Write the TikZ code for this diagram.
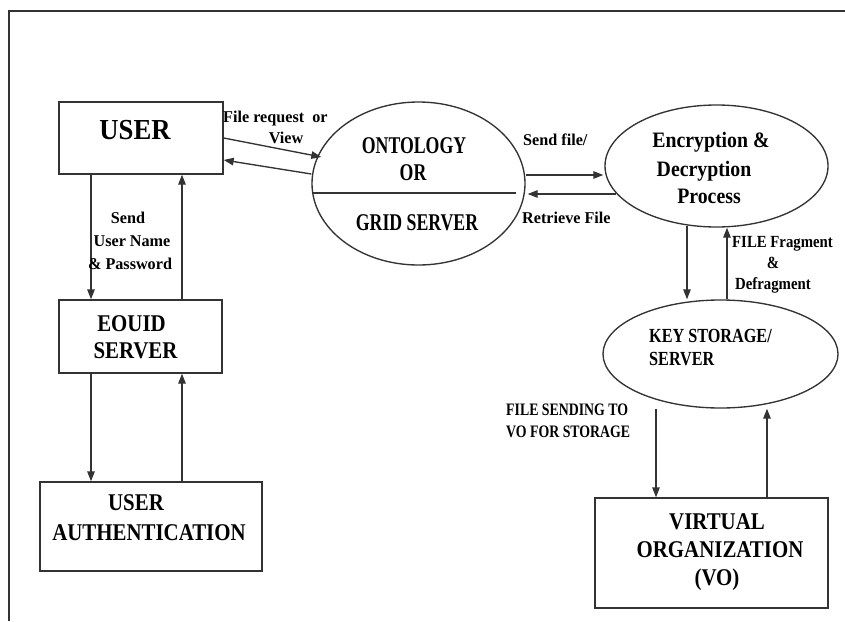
\documentclass[tikz,border=0pt]{standalone}
\usepackage{fontspec}
\setmainfont{Liberation Serif}
% condensed cuts of the same serif face for the different labels
\newfontfamily\fUser[FakeStretch=0.92]{Liberation Serif}
\newfontfamily\fBox[FakeStretch=0.87]{Liberation Serif}
\newfontfamily\fOnt[FakeStretch=0.74]{Liberation Serif}
\newfontfamily\fEnc[FakeStretch=0.90]{Liberation Serif}
\newfontfamily\fKey[FakeStretch=0.81]{Liberation Serif}
\newfontfamily\fLab[FakeStretch=0.98]{Liberation Serif}
\newfontfamily\fLabN[FakeStretch=0.87]{Liberation Serif}
\newfontfamily\fLabS[FakeStretch=0.79]{Liberation Serif}
\usetikzlibrary{shapes.geometric,arrows.meta,calc}

\begin{document}
\begin{tikzpicture}[x=1pt,y=-1pt,
  line/.style={line width=1.35pt, draw=black!80},
  flow/.style={line, -{Triangle[length=10pt,width=7.5pt]}},
  box/.style={line, rectangle, inner sep=0pt},
  oval/.style={line, ellipse, inner sep=0pt},
  txt/.style={inner sep=0pt, anchor=base, text=black},
  txtl/.style={txt, anchor=base west},
  big/.style={font=\fUser\bfseries\fontsize{29}{30}\selectfont},
  boxt/.style={font=\fBox\bfseries\fontsize{24}{26}\selectfont},
  ont/.style={font=\fOnt\bfseries\fontsize{24}{26}\selectfont},
  enct/.style={font=\fEnc\bfseries\fontsize{22}{24}\selectfont},
  keyt/.style={font=\fKey\bfseries\fontsize{20}{22}\selectfont},
  lab/.style={font=\fLab\bfseries\fontsize{16.5}{18}\selectfont},
  labn/.style={font=\fLabN\bfseries\fontsize{17}{18}\selectfont},
  labs/.style={font=\fLabS\bfseries\fontsize{17.5}{19}\selectfont}]
\useasboundingbox (0,0) rectangle (845,621);

% outer frame (top and left edges)
\coordinate (fTL) at (9,11);
\coordinate (fTR) at (845,11);
\coordinate (fBL) at (9,621);
\draw[line] (fTR) -- (fTL) -- (fBL);

% boxes
\node[box, minimum width=164, minimum height=72] (user)  at (141,138) {};
\node[box, minimum width=163, minimum height=73] (eouid) at (140.5,336.5) {};
\node[box, minimum width=222, minimum height=89] (auth)  at (151,526.5) {};
\node[box, minimum width=233, minimum height=110] (vo)   at (711.5,553) {};

% ellipses
\node[oval, minimum width=213, minimum height=163] (ontol) at (418.5,183.5) {};
\node[oval, minimum width=223, minimum height=122] (enc)   at (716.5,166) {};
\node[oval, minimum width=235, minimum height=108] (key)   at (720.5,354) {};
\draw[line] ($(ontol.west)+(1,9.5)$) -- ($(ontol.east)+(-10,9.5)$);

% texts inside the shapes
\node[txt, big]  (tUser) at (135,139.6) {USER};
\node[txt, ont]  (tOnt1) at (414,153) {ONTOLOGY};
\node[txt, ont]  (tOnt2) at (413,180) {OR};
\node[txt, ont]  (tOnt3) at (417,230) {GRID SERVER};
\node[txt, enct] (tEnc1) at (711,147.3) {Encryption \&};
\node[txt, enct] (tEnc2) at (704,176) {Decryption};
\node[txt, enct] (tEnc3) at (709,203) {Process};
\node[txt, boxt] (tEo1)  at (131.5,331) {EOUID};
\node[txt, boxt] (tEo2)  at (135.5,358) {SERVER};
\node[txt, boxt] (tAu1)  at (136,510) {USER};
\node[txt, boxt] (tAu2)  at (149,540) {AUTHENTICATION};
\node[txt, boxt] (tVo1)  at (717,529.6) {VIRTUAL};
\node[txt, boxt] (tVo2)  at (720,557.6) {ORGANIZATION};
\node[txt, boxt] (tVo3)  at (717,585) {(VO)};
\node[txtl, keyt] (tKey1) at (649,342) {KEY STORAGE/};
\node[txtl, keyt] (tKey2) at (649,365) {SERVER};

% arrow columns
\coordinate (xa) at (91,0);
\coordinate (xb) at (182,0);
\coordinate (xc) at (687,0);
\coordinate (xd) at (727,0);
\coordinate (xe) at (656,0);
\coordinate (xf) at (767,0);

% left column
\draw[flow] (user.south -| xa) -- (eouid.north -| xa);
\draw[flow] (eouid.north -| xb) -- (user.south -| xb);
\draw[flow] (eouid.south -| xa) -- (auth.north -| xa);
\draw[flow] (auth.north -| xb) -- (eouid.south -| xb);

% user <-> ontology
\draw[flow] (user.east) -- ($(ontol.west)+(10,-26.5)$);
\draw[flow] ($(ontol.west)+(0,-9.5)$) -- ($(user.east)+(0,22)$);

% ontology <-> encryption
\draw[flow] ($(ontol.east)+(0,-8.5)$) -- ($(enc.west)+(-1,9)$);
\draw[flow] ($(enc.west)+(12,28)$) -- ($(ontol.east)+(2,10.5)$);

% encryption <-> key storage
\draw[flow] ($(enc.south -| xc)+(0,-2)$) -- (key.north -| xc);
\draw[flow] (key.north -| xd) -- (enc.south -| xd);

% key storage <-> virtual organization
\draw[flow] (key.south -| xe) -- (vo.north -| xe);
\draw[flow] (vo.north -| xf) -- (key.south -| xf);

% connector labels
\node[txtl, lab] (lReq)  at (223,122) {File request\ \ or};
\node[txt, lab]  (lView) at (286,143) {View};
\node[txt, lab]  (lS1)   at (128,223) {Send};
\node[txt, lab]  (lS2)   at (132,246) {User Name};
\node[txt, lab]  (lS3)   at (130,269) {\& Password};
\node[txtl, lab] (lSend) at (523,145) {Send file/};
\node[txtl, lab] (lRet)  at (522,223) {Retrieve File};
\node[txtl, labn] (lFr1) at (732,247) {FILE Fragment};
\node[txt, labn]  (lFr2) at (773,268) {\&};
\node[txtl, labn] (lFr3) at (735,289) {Defragment};
\node[txtl, labs] (lVo1) at (506,415) {FILE SENDING TO};
\node[txtl, labs] (lVo2) at (506,437) {VO FOR STORAGE};
\end{tikzpicture}
\end{document}
